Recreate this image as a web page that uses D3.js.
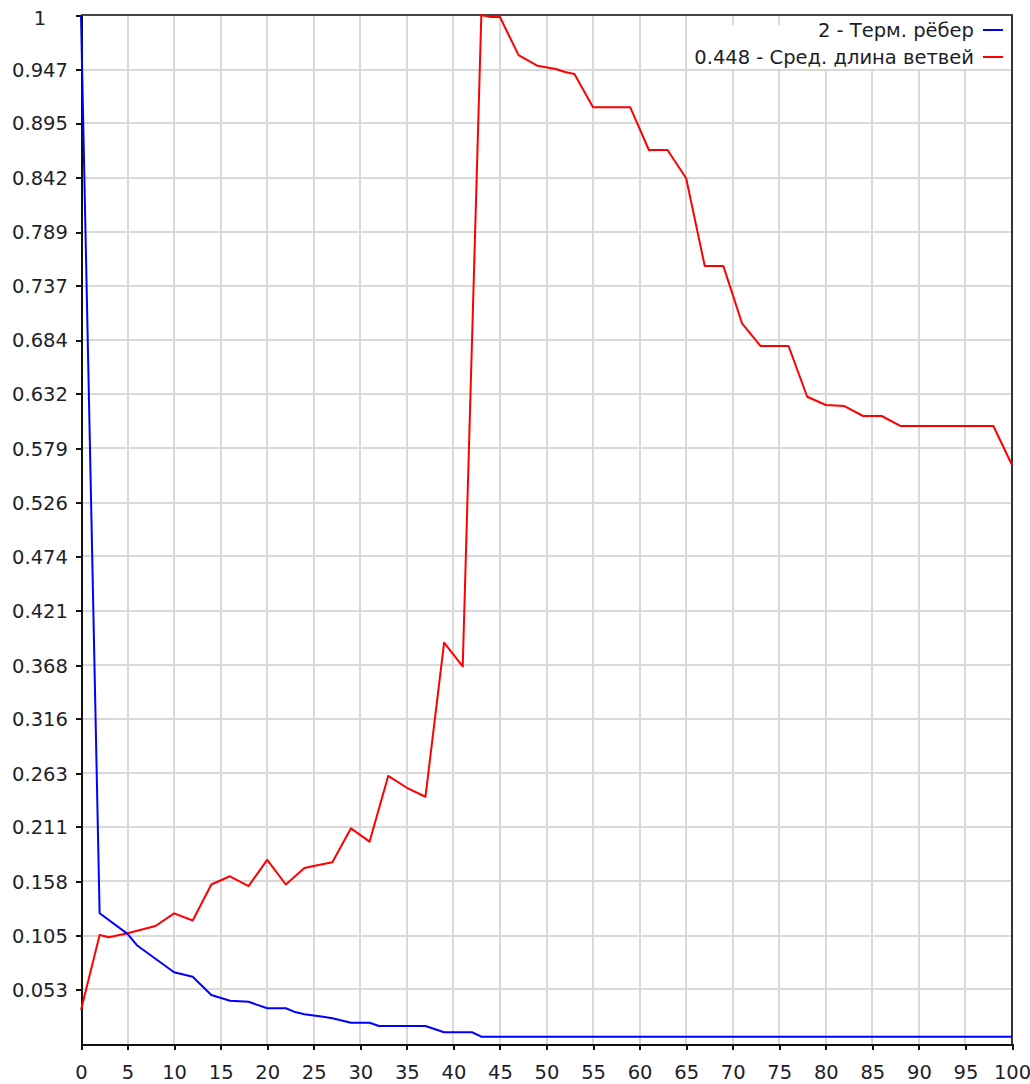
<!DOCTYPE html>
<html>
<head>
<meta charset="utf-8">
<script src="https://cdn.jsdelivr.net/npm/d3@7"></script>
<style>
  html, body { margin: 0; padding: 0; background: #fff; }
  svg { display: block; }
  text { font-family: "DejaVu Sans", Verdana, sans-serif; fill: #1e1e2a; }
</style>
</head>
<body>
<svg id="chart" width="1030" height="1084"></svg>
<script>
// X axis ticks (generation number)
const xTicks = [0, 5, 10, 15, 20, 25, 30, 35, 40, 45, 50, 55, 60, 65, 70, 75, 80, 85, 90, 95, 100];

// Y axis tick labels (normalised scale, steps of 1/19)
const yTickLabels = ["0.053", "0.105", "0.158", "0.211", "0.263", "0.316", "0.368", "0.421", "0.474",
  "0.526", "0.579", "0.632", "0.684", "0.737", "0.789", "0.842", "0.895", "0.947", "1"];

// Series 1: terminal edges (normalised)
const termEdgesX = [0, 2, 5, 6, 10, 12, 14, 16, 18, 20, 22, 23, 24, 26, 27, 29, 31, 32, 37, 39, 42, 43, 100];
const termEdgesY = [1, 0.127, 0.107, 0.096, 0.0697, 0.0654, 0.0476, 0.042, 0.041, 0.0347, 0.0347, 0.031,
  0.029, 0.0265, 0.025, 0.0207, 0.0207, 0.0175, 0.0175, 0.0114, 0.0114, 0.0071, 0.0071];

// Series 2: mean branch length (normalised)
const branchLenX = [0, 2, 3, 5, 8, 10, 12, 14, 16, 18, 20, 22, 24, 25, 27, 29, 31, 33, 35, 37, 39, 41, 43, 44, 45,
  47, 49, 51, 52, 53, 55, 59, 61, 63, 65, 67, 69, 71, 73, 76, 78, 80, 82, 84, 86, 88, 98, 100];
const branchLenY = [0.033, 0.106, 0.1037, 0.1076, 0.1147, 0.127, 0.12, 0.155, 0.163, 0.1535, 0.179, 0.155,
  0.171, 0.173, 0.1766, 0.2096, 0.1967, 0.2605, 0.249, 0.2403, 0.39, 0.367, 1, 0.998, 0.998,
  0.961, 0.9507, 0.9475, 0.9446, 0.9427, 0.9103, 0.9103, 0.8688, 0.8688, 0.8413, 0.756, 0.756, 0.7004,
  0.6783, 0.6783, 0.629, 0.621, 0.62, 0.6103, 0.6103, 0.6006, 0.6006, 0.5627];

const seriesNames = ["2 - Терм. рёбер", "0.448 - Сред. длина ветвей"];

const W = 1030, H = 1084;
const margin = { left: 81, right: 18, top: 15, bottom: 40 };
const svg = d3.select("#chart");

const x = d3.scaleLinear().domain([0, 100]).range([margin.left, W - margin.right]);
const y = d3.scaleLinear().domain([0, 1]).range([H - margin.bottom, margin.top]);
const yTicks = yTickLabels.map(Number);

const x0 = x(0), x1 = x(100), y0 = y(0), y1 = y(1);

// Grid
const grid = svg.append("g").attr("stroke", "#d9d9d9").attr("stroke-width", 2)
  .attr("shape-rendering", "crispEdges");
grid.selectAll("line.v").data(xTicks.filter(d => d > 0 && d < 100)).join("line")
  .attr("class", "v")
  .attr("x1", d => x(d)).attr("x2", d => x(d)).attr("y1", y1).attr("y2", y0);
grid.selectAll("line.h").data(yTicks.filter(d => d < 1)).join("line")
  .attr("class", "h")
  .attr("x1", x0).attr("x2", x1).attr("y1", d => y(d)).attr("y2", d => y(d));

// Frame: top and right borders
const frame = svg.append("g").attr("shape-rendering", "crispEdges").attr("stroke-width", 2);
frame.append("line").attr("x1", x0).attr("x2", x1 + 1).attr("y1", y1).attr("y2", y1).attr("stroke", "#444");
frame.append("line").attr("x1", x1).attr("x2", x1).attr("y1", y1).attr("y2", y0).attr("stroke", "#333");

// Axes
const fontSize = 19.5;
const xAxis = svg.append("g").attr("transform", `translate(0,${y0})`)
  .call(d3.axisBottom(x).tickValues(xTicks).tickSize(6).tickSizeOuter(0).tickPadding(15));
const yAxis = svg.append("g").attr("transform", `translate(${x0},0)`)
  .call(d3.axisLeft(y).tickValues(yTicks).tickFormat((d, i) => yTickLabels[i]).tickSize(5).tickSizeOuter(0));

[xAxis, yAxis].forEach(g => {
  g.select(".domain").attr("stroke", "#111").attr("stroke-width", 2).attr("shape-rendering", "crispEdges");
  g.selectAll(".tick line").attr("stroke", "#111").attr("stroke-width", 2).attr("shape-rendering", "crispEdges");
  g.selectAll(".tick text").attr("font-size", fontSize).attr("fill", "#1e1e2a")
    .attr("font-family", "'DejaVu Sans', Verdana, sans-serif");
});
// y labels are centred in the left gutter
yAxis.selectAll(".tick text").attr("text-anchor", "middle").attr("x", 40 - x0).attr("dy", "0.35em");
yAxis.selectAll(".tick").filter(d => d === 1).select("text").attr("dy", "0.5em");
xAxis.selectAll(".tick text").attr("dy", "0.71em");

// Data lines
const line = d3.line().x(d => x(d[0])).y(d => y(d[1]));
const branchPts = branchLenX.map((v, i) => [v, branchLenY[i]]);
const termPts = termEdgesX.map((v, i) => [v, termEdgesY[i]]);

svg.append("path").datum(branchPts).attr("d", line)
  .attr("fill", "none").attr("stroke", "#ff0000").attr("stroke-width", 2).attr("stroke-linejoin", "round");
svg.append("path").datum(termPts).attr("d", line)
  .attr("fill", "none").attr("stroke", "#0000ff").attr("stroke-width", 2).attr("stroke-linejoin", "round");

// Legend (top right, right-aligned text with line samples)
const legend = svg.append("g");
const legendColors = ["#0000ff", "#ff0000"];
const baselines = [37, 64];
const textRight = 974;
seriesNames.forEach((name, i) => {
  const t = legend.append("text").attr("x", textRight).attr("y", baselines[i])
    .attr("text-anchor", "end").attr("font-size", fontSize).text(name);
  const bb = t.node().getBBox();
  legend.insert("rect", "text")
    .attr("x", bb.x - 4).attr("y", i === 0 ? y1 + 1 : 25)
    .attr("width", x1 - 1 - (bb.x - 4))
    .attr("height", i === 0 ? baselines[0] + 5 - (y1 + 1) : baselines[1] + 5 - 25)
    .attr("fill", "#fff");
  legend.append("line").attr("x1", 983).attr("x2", 1003)
    .attr("y1", baselines[i] - 7).attr("y2", baselines[i] - 7)
    .attr("stroke", legendColors[i]).attr("stroke-width", 2).attr("shape-rendering", "crispEdges");
});
</script>
</body>
</html>
